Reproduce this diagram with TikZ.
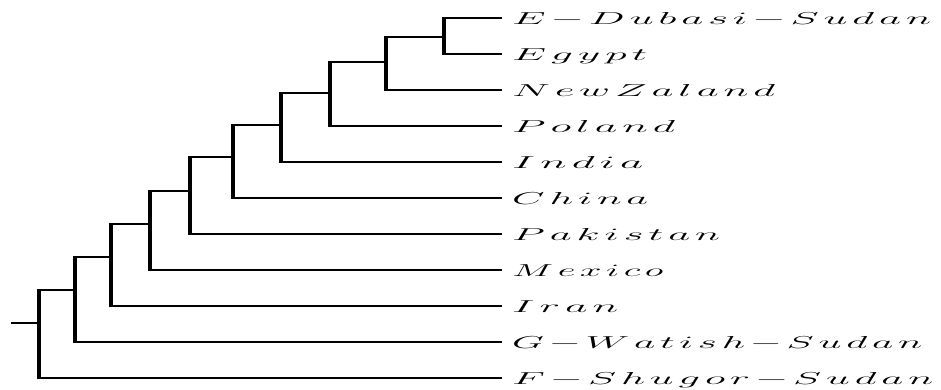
\documentclass[tikz,border=0pt]{standalone}
\usepackage{graphicx}
\makeatletter
% giãn cách từng chữ
\def\gian#1{\gian@a#1\relax}
\def\gian@a#1{{#1}\gian@}
\def\gian@#1{\ifx#1\relax\else\kern2pt{#1}\expandafter\gian@\fi}
\makeatother
\newcommand{\keo}[2]{\resizebox{#2pt}{\height}{$\expandafter\gian\expandafter{#1}$}}
\begin{document}
\begin{tikzpicture}[x=1pt, y=-1pt,
	ngang/.style={line width=1.7pt},
	doc/.style={line width=4pt, shorten <=-0.9pt, shorten >=-0.9pt},
	la/.style={anchor=west, inner xsep=10pt, inner ysep=0pt, text height=15pt, text depth=2pt, font=\fontsize{19}{22}\selectfont}]
	\useasboundingbox (0,0) rectangle (941,389);
	% Các lá
	\foreach \ten/\rong [count=\i] in {E-Dubasi-Sudan/419, Egypt/135, NewZaland/263, Poland/163, India/131, China/136, Pakistan/208, Mexico/151, Iran/106, G-Watish-Sudan/410, F-Shugor-Sudan/421}
		\node[la] (l\i) at (502, {18+36*(\i-1)}) {\keo{\ten}{\rong}};
	% Các nút trong
	\foreach \x/\y [count=\k] in {38.5/323, 74.5/290, 111/257, 150/224, 190/191, 233/157, 281/125, 330/93, 386/62, 444/37}
		\coordinate (n\k) at (\x,\y);
	\coordinate (goc) at (11,323);
	\draw[ngang] (goc) -- (n1);
	\foreach \k in {1,...,9}{
		\pgfmathtruncatemacro\con{\k+1}
		\pgfmathtruncatemacro\la{12-\k}
		\draw[doc] (n\k |- n\con) -- (n\k |- l\la.west);
		\draw[ngang] (n\k |- n\con) -- (n\con);
		\draw[ngang] (n\k |- l\la.west) -- (l\la.west);
	}
	\draw[doc] (n10 |- l1.west) -- (n10 |- l2.west);
	\draw[ngang] (n10 |- l1.west) -- (l1.west);
	\draw[ngang] (n10 |- l2.west) -- (l2.west);
\end{tikzpicture}
\end{document}
